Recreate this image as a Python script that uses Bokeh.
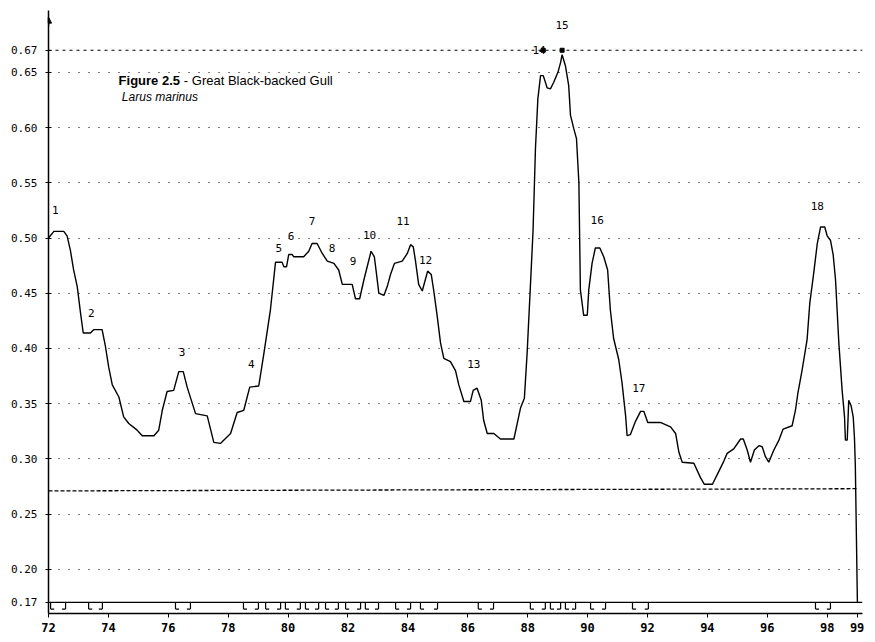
from bokeh.plotting import figure
from bokeh.models import FixedTicker, Span, Label, Range1d, Arrow, NormalHead, PrintfTickFormatter, ColumnDataSource
from bokeh.embed import file_html
from bokeh.resources import INLINE
from bokeh.core.properties import value

# ---------------- data ----------------
years = [72.00,72.18,72.51,72.62,72.73,72.84,72.96,73.07,73.16,73.40,
         73.51,73.79,73.90,74.01,74.13,74.35,74.51,74.68,74.96,75.13,
         75.52,75.68,75.80,75.96,76.18,76.35,76.50,76.63,76.91,77.30,
         77.52,77.74,78.08,78.30,78.52,78.72,79.02,79.19,79.41,79.58,
         79.80,79.86,79.95,80.02,80.14,80.19,80.52,80.69,80.80,80.97,
         81.14,81.31,81.53,81.69,81.81,82.14,82.25,82.39,82.53,82.66,
         82.77,82.88,82.95,83.03,83.20,83.31,83.42,83.55,83.81,83.98,
         84.09,84.18,84.25,84.36,84.48,84.55,84.66,84.78,84.86,84.98,
         85.09,85.20,85.42,85.59,85.70,85.87,86.09,86.18,86.31,86.45,
         86.53,86.65,86.87,87.09,87.54,87.65,87.76,87.89,87.98,88.09,
         88.18,88.26,88.34,88.43,88.52,88.65,88.76,88.87,89.01,89.10,
         89.15,89.26,89.37,89.43,89.54,89.63,89.71,89.76,89.87,89.99,
         90.04,90.15,90.26,90.41,90.54,90.67,90.76,90.87,91.04,91.15,
         91.27,91.32,91.43,91.60,91.77,91.88,92.01,92.43,92.77,92.94,
         93.05,93.16,93.55,93.77,93.90,94.17,94.37,94.55,94.66,94.88,
         95.11,95.20,95.33,95.44,95.57,95.72,95.83,95.94,96.05,96.22,
         96.39,96.53,96.83,96.94,97.02,97.16,97.33,97.42,97.55,97.67,
         97.78,97.92,98.00,98.11,98.20,98.28,98.39,98.50,98.58,98.61,
         98.67,98.72,98.80,98.87,98.91,98.94,99.01]

index_values = [0.500,0.506,0.506,0.502,0.489,0.471,0.456,0.432,0.414,0.414,
                0.417,0.417,0.402,0.383,0.367,0.356,0.338,0.332,0.326,0.321,
                0.321,0.326,0.344,0.361,0.362,0.379,0.379,0.365,0.341,0.339,
                0.315,0.314,0.323,0.342,0.344,0.365,0.366,0.395,0.435,0.478,
                0.478,0.474,0.474,0.485,0.485,0.483,0.483,0.488,0.495,0.495,
                0.486,0.479,0.477,0.471,0.458,0.458,0.445,0.445,0.462,0.476,
                0.488,0.483,0.468,0.450,0.448,0.456,0.467,0.477,0.479,0.486,
                0.494,0.492,0.480,0.458,0.452,0.459,0.470,0.467,0.453,0.429,
                0.405,0.391,0.388,0.380,0.367,0.352,0.352,0.362,0.364,0.353,
                0.335,0.323,0.323,0.318,0.318,0.332,0.346,0.355,0.395,0.456,
                0.507,0.581,0.626,0.647,0.647,0.636,0.635,0.641,0.650,0.659,
                0.666,0.656,0.638,0.611,0.599,0.590,0.550,0.453,0.430,0.430,
                0.453,0.477,0.491,0.491,0.483,0.471,0.435,0.409,0.390,0.369,
                0.339,0.321,0.322,0.334,0.343,0.343,0.333,0.333,0.329,0.323,
                0.306,0.297,0.296,0.283,0.277,0.277,0.288,0.298,0.305,0.309,
                0.318,0.318,0.308,0.297,0.308,0.312,0.311,0.302,0.297,0.308,
                0.317,0.327,0.330,0.344,0.359,0.380,0.408,0.441,0.468,0.495,
                0.510,0.510,0.502,0.498,0.485,0.462,0.405,0.362,0.338,0.317,
                0.317,0.353,0.348,0.338,0.320,0.295,0.170]

peak_labels = ["1","2","3","4","5","6","7","8","9","10","11","12","13","14","15","16","17","18"]
peak_label_years = [72.23,73.43,76.46,78.77,79.69,80.10,80.80,81.47,82.17,82.72,83.84,84.59,86.20,88.38,89.15,90.32,91.71,97.67]
peak_label_values = [0.525,0.432,0.397,0.386,0.491,0.502,0.515,0.491,0.479,0.503,0.515,0.480,0.386,0.670,0.693,0.516,0.364,0.529]

marker_years = [88.52, 89.15]
marker_values = [0.670, 0.670]

trend_years = [72.0, 99.0]
trend_values = [0.271, 0.273]

bracket_start = [72.07,73.34,76.24,78.51,79.25,79.91,80.58,81.25,81.92,82.58,83.59,84.42,86.35,88.09,88.76,89.26,90.10,91.50,97.61]
bracket_end   = [72.57,73.80,76.74,79.01,79.75,80.41,81.02,81.68,82.42,83.02,84.09,84.99,86.86,88.59,89.10,89.60,90.60,92.03,98.11]
baseline_value = 0.17

y_ticks = [0.17,0.20,0.25,0.30,0.35,0.40,0.45,0.50,0.55,0.60,0.65,0.67]
grid_values = [0.20,0.25,0.30,0.35,0.40,0.45,0.50,0.55,0.60,0.65]
x_ticks = [72,74,76,78,80,82,84,86,88,90,92,94,96,98,99]

# ---------------- figure ----------------
p = figure(width=867, height=638,
           x_range=Range1d(72, 99.18), y_range=Range1d(0.160, 0.706),
           output_backend="svg", toolbar_location=None,
           min_border_left=48, min_border_right=5,
           min_border_top=10, min_border_bottom=25)
p.outline_line_color = None
p.background_fill_color = "white"

# axes
p.yaxis.ticker = FixedTicker(ticks=y_ticks)
p.yaxis.formatter = PrintfTickFormatter(format="%.2f")
p.yaxis.major_label_text_font = "DejaVu Sans Mono"
p.yaxis.major_label_text_font_size = "11px"
p.yaxis.major_label_text_color = "black"
p.yaxis.major_tick_in = 3
p.yaxis.major_tick_out = 3
p.yaxis.minor_tick_line_color = None
p.yaxis.axis_line_width = 1.5
p.yaxis.axis_line_color = "black"
p.yaxis.major_tick_line_color = "black"
p.yaxis.major_label_standoff = 8

p.xaxis.ticker = FixedTicker(ticks=x_ticks)
p.xaxis.major_label_text_font = "DejaVu Sans Mono"
p.xaxis.major_label_text_font_style = "bold"
p.xaxis.major_label_text_font_size = "12px"
p.xaxis.major_label_text_color = "black"
p.xaxis.major_tick_in = 0
p.xaxis.major_tick_out = 4
p.xaxis.minor_tick_line_color = None
p.xaxis.axis_line_width = 1.5
p.xaxis.axis_line_color = "black"
p.xaxis.major_tick_line_color = "black"
p.xaxis.major_label_standoff = 5

# grid
p.xgrid.grid_line_color = None
p.ygrid.ticker = FixedTicker(ticks=grid_values)
p.ygrid.grid_line_color = "black"
p.ygrid.grid_line_dash = "1 9"
p.ygrid.grid_line_width = 1

p.add_layout(Span(location=0.67, dimension="width", line_color="black", line_dash="3 4", line_width=1))
p.add_layout(Span(location=baseline_value, dimension="width", line_color="black", line_width=1.3))

# axis arrow at top
p.add_layout(Arrow(end=NormalHead(size=6, fill_color="black", line_color="black"),
                   x_start=72, y_start=0.692, x_end=72, y_end=0.700,
                   line_color="black", line_width=1.5))

# brackets on the base line
drop = 0.006
foot = 0.12
bx0, bx1, by0, by1 = [], [], [], []
for s, e in zip(bracket_start, bracket_end):
    bx0 += [s, s, e, e - foot]
    bx1 += [s, s + foot, e, e]
    by0 += [baseline_value, baseline_value - drop, baseline_value, baseline_value - drop]
    by1 += [baseline_value - drop, baseline_value - drop, baseline_value - drop, baseline_value - drop]
p.segment(x0=bx0, y0=by0, x1=bx1, y1=by1, line_color="black", line_width=1.2)

# trend line
p.line(trend_years, trend_values, line_color="black", line_dash="4 2", line_width=1.3)

# main curve
p.line(years, index_values, line_color="black", line_width=1.4)

# markers on the 0.67 line near peaks 14 and 15
p.scatter(marker_years, marker_values, marker="square", size=4, color="black")

# peak labels
src = ColumnDataSource(dict(x=peak_label_years, y=peak_label_values, t=peak_labels))
p.text(x="x", y="y", text="t", source=src, text_font=value("DejaVu Sans Mono"),
       text_font_size="11px", text_align="center", text_baseline="middle", text_color="black")

# title
p.add_layout(Label(x=74.34, y=0.643, text="Figure 2.5", text_font="Liberation Sans",
                   text_font_style="bold", text_font_size="13px", text_baseline="middle",
                   text_color="black"))
p.add_layout(Label(x=76.52, y=0.643, text="- Great Black-backed Gull", text_font="Liberation Sans",
                   text_font_size="13px", text_baseline="middle", text_color="black"))
p.add_layout(Label(x=74.45, y=0.628, text="Larus marinus", text_font="Liberation Sans",
                   text_font_style="italic", text_font_size="12px", text_baseline="middle",
                   text_color="black"))

open("out.html", "w").write(file_html(p, INLINE))
